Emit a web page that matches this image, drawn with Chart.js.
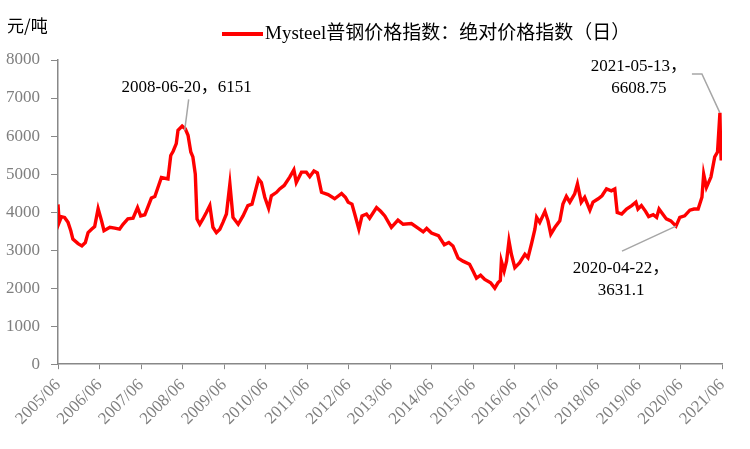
<!DOCTYPE html>
<html>
<head>
<meta charset="utf-8">
<script src="https://cdn.jsdelivr.net/npm/chart.js@4/dist/chart.umd.min.js"></script>
<style>
 html,body{margin:0;padding:0;background:#fff;}
 #wrap{width:750px;height:449px;}
</style>
</head>
<body>
<div id="wrap"><canvas id="steel"></canvas></div>
<script>
// x = months since 2005/06
const tickLabels=['2005/06','2006/06','2007/06','2008/06','2009/06','2010/06','2011/06','2012/06','2013/06','2014/06','2015/06','2016/06','2017/06','2018/06','2019/06','2020/06','2021/06'];
const months=[0,0.35,1.0,1.9,2.9,3.7,4.3,5.8,6.9,7.9,
 8.7,9.7,10.6,11.6,12.6,13.3,15.0,16.4,17.8,18.8,
 20.2,21.7,23.0,23.9,25.1,27.0,28.0,29.9,31.8,32.6,
 33.3,34.2,34.7,35.9,36.8,37.6,38.4,39.0,39.7,40.2,
 41.0,41.9,42.9,43.9,44.8,45.8,46.8,47.7,48.7,49.7,
 50.6,52.1,53.5,54.9,56.1,57.1,58.0,58.8,59.8,60.9,
 61.7,63.2,64.1,65.4,67.0,68.2,68.9,70.4,71.8,72.8,
 74.0,75.0,76.2,78.1,80.0,82.0,83.1,83.9,85.0,85.8,
 87.0,87.9,89.2,90.1,92.1,93.3,94.5,96.4,98.3,99.8,
 102.2,104.1,105.6,106.6,108.0,110.0,111.7,113.0,114.2,115.7,
 117.1,119.0,120.0,121.0,122.2,123.4,125.1,126.3,127.2,127.9,
 128.2,129.0,129.7,130.4,131.1,132.1,133.5,135.0,135.9,136.9,
 137.9,138.4,139.3,140.8,141.7,142.5,143.7,145.1,146.0,147.0,
 148.0,149.4,150.2,151.3,152.3,153.8,154.7,156.2,157.3,158.6,
 160.0,161.0,161.2,161.7,163.0,164.4,165.9,167.1,167.7,168.7,
 169.9,170.8,172.1,173.1,173.8,175.0,175.9,177.2,178.7,179.8,
 181.2,182.7,183.9,185.1,186.2,186.7,187.5,188.8,189.9,190.7,
 191.4,191.6,191.75,191.9];
const prices=[4200,3730,3880,3860,3730,3510,3290,3170,3110,3200,
 3460,3550,3620,4090,3770,3510,3600,3580,3550,3680,
 3820,3840,4120,3900,3930,4370,4410,4910,4870,5490,
 5600,5800,6150,6260,6190,6020,5580,5450,5000,3820,
 3680,3820,3990,4170,3600,3460,3550,3730,3950,4740,
 3860,3680,3900,4170,4210,4560,4870,4780,4390,4100,
 4430,4520,4610,4700,4920,5110,4780,5050,5050,4930,
 5080,5030,4520,4460,4350,4490,4390,4260,4210,3950,
 3550,3900,3950,3840,4120,4020,3900,3600,3790,3680,
 3700,3580,3480,3570,3450,3380,3140,3200,3110,2790,
 2710,2630,2450,2260,2340,2230,2140,2000,2140,2200,
 2710,2450,2710,3240,2890,2540,2670,2890,2800,3160,
 3550,3860,3730,4020,3770,3420,3600,3770,4210,4410,
 4260,4480,4740,4260,4390,4050,4260,4350,4430,4610,
 4560,4610,4430,3990,3950,4080,4170,4260,4080,4170,
 4020,3880,3930,3860,4080,3930,3820,3770,3631,3860,
 3900,4050,4080,4080,4390,5000,4650,4920,5450,5580,
 6609,5700,5400,5600];
const seriesName='Mysteel普钢价格指数：绝对价格指数（日）';
const unitLabel='元/吨';
// marked points
const noteMonths=[36.63,191.4,178.7];
const noteValues=[6151,6608.75,3631.1];
const noteTexts=[['2008-06-20，6151'],['2021-05-13，','6608.75'],['2020-04-22，','3631.1']];

const SERIF="'Liberation Serif','Noto Sans CJK SC',serif";
const GREY='#7f7f7f';

const notes={
 id:'notes',
 afterDraw(chart){
  const c=chart.ctx, xs=chart.scales.x, ys=chart.scales.y;
  c.save();
  // unit + legend
  c.fillStyle='#000';c.textBaseline='middle';c.textAlign='left';
  c.font="17px 'Noto Sans CJK SC'";
  c.fillText(unitLabel,7,26);
  c.strokeStyle='#ff0000';c.lineWidth=4;
  c.beginPath();c.moveTo(222,34);c.lineTo(263,34);c.stroke();
  c.font="19px "+SERIF;
  c.fillText(seriesName,265,34);
  // leaders + labels
  const pts=noteMonths.map((m,i)=>[xs.getPixelForValue(m),ys.getPixelForValue(noteValues[i])]);
  c.strokeStyle='#a6a6a6';c.lineWidth=1.5;
  c.beginPath();
  c.moveTo(pts[0][0],pts[0][1]);c.lineTo(pts[0][0]+4,pts[0][1]-31);
  c.moveTo(pts[1][0],pts[1][1]);c.lineTo(pts[1][0]-18,pts[1][1]-39);c.lineTo(pts[1][0]-28,pts[1][1]-39);
  c.moveTo(pts[2][0],pts[2][1]);c.lineTo(pts[2][0]-54,pts[2][1]+25);
  c.stroke();
  c.fillStyle='#000';c.textAlign='center';c.font="17px "+SERIF;
  const offs=[[2,-43],[-81,-46],[-55,42]];
  pts.forEach((p,i)=>{
   noteTexts[i].forEach((t,j)=>c.fillText(t,p[0]+offs[i][0],p[1]+offs[i][1]+j*22));
  });
  c.restore();
 }
};

new Chart(document.getElementById('steel'),{
 type:'line',
 data:{datasets:[{
  label:seriesName,
  data:months.map((m,i)=>({x:m,y:prices[i]})),
  borderColor:'#ff0000',backgroundColor:'#ff0000',
  borderWidth:3.4,pointRadius:0,tension:0
 }]},
 options:{
  responsive:true,maintainAspectRatio:false,animation:false,
  layout:{padding:{top:60,right:28,bottom:14,left:0}},
  plugins:{legend:{display:false},tooltip:{enabled:false}},
  scales:{
   x:{type:'linear',min:0,max:192,
    afterBuildTicks:ax=>{ax.ticks=tickLabels.map((_,i)=>({value:i*12}));},
    afterFit:ax=>{ax.paddingLeft=10;},
    ticks:{autoSkip:false,maxRotation:45,minRotation:45,padding:6,color:GREY,font:{family:SERIF,size:17},
     callback:v=>tickLabels[Math.round(v/12)]},
    grid:{display:true,drawOnChartArea:false,drawTicks:true,tickLength:5,color:'#888'},
    border:{color:'#888',width:1.5}
   },
   y:{min:0,max:8000,
    afterFit:ax=>{ax.width=58;},
    ticks:{stepSize:1000,padding:11,color:GREY,font:{family:SERIF,size:17},callback:v=>String(v)},
    grid:{display:true,drawOnChartArea:false,drawTicks:true,tickLength:7,color:'#888'},
    border:{color:'#888',width:1.5}
   }
  }
 },
 plugins:[notes]
});
</script>
</body>
</html>
